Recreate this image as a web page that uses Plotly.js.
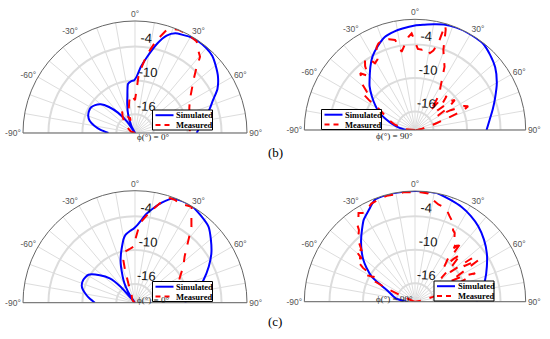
<!DOCTYPE html>
<html>
<head>
<meta charset="utf-8">
<script src="https://cdn.plot.ly/plotly-3.0.1.min.js"></script>
<style>html,body{margin:0;padding:0;background:#fff;}#chart{width:550px;height:339px;}</style>
</head>
<body>
<div id="chart"></div>
<script>
// ---------- data (theta in degrees, r in dB) ----------
// (b) phi = 0 deg
const simB0Theta = [-90,-85,-80,-75,-70,-65,-60,-55,-50,-45,-40,-35,-32,-28,-20,-15,-12,-8,-4,-1,2,5,9,14,18,22,26,30,35,40,45,50,56,62,67,72,78,84,90];
const simB0R     = [-14.6,-13.2,-12.0,-11.0,-10.5,-10.3,-10.3,-10.7,-11.4,-12.8,-14.6,-16.8,-19.3,-18.0,-15.7,-14.0,-12.8,-10.5,-10.1,-10.0,-9.2,-7.6,-5.7,-3.0,-1.2,-0.3,0.0,0.3,0.4,0.3,0.0,-0.7,-1.6,-2.8,-4.3,-5.4,-6.8,-7.7,-8.4];
const meaB0Theta = [-90,-70,-57,-47,-38,-30,-25,-20,-15,-10,-6,-3,0,2,3.4,5.8,8.5,13,17,20,23,27,30,34,37,40.5,44,48,54,59,65,72,80,90];
const meaB0R     = [-19.3,-18.5,-17.9,-16.9,-15.8,-14.7,-15.5,-17.0,-15.0,-13.5,-12.5,-13.0,-13.5,-11.8,-9.4,-7.6,-5.4,-2.5,-0.3,0.3,0.5,0.5,0.4,0.2,-0.8,-1.6,-3.8,-5.4,-7.0,-8.0,-8.7,-9.2,-9.5,-9.6];
// (b) phi = 90 deg
const simB90Theta = [-90,-82,-75,-65,-58,-52,-46,-40,-35,-30,-24,-18,-12,-7,0,5,10,16,22,28,34,38,45,52,60,69,75,82,90];
const simB90R     = [-17.8,-16.5,-15.0,-12.4,-10.9,-9.5,-8.0,-6.7,-5.4,-4.1,-2.9,-1.8,-1.3,-1.0,-0.6,-0.4,-0.1,0.3,0.45,0.5,0.45,0.4,-0.3,-1.1,-2.4,-4.0,-4.9,-5.8,-6.5];
const meaB90Theta = [-90,-85,-80,-75,-70,-65,-60,-57,-55,-52,-49,-46,-44,-41,-38,-35.5,-33,-31,-28,-25,-23,-20,-16,-12.5,-11,-9.7,-7,-4,-2,0,2,5,8,11,13,15,16,17,19.5,22,25,28,31,34,36,38,40,43,46,49,51,53,56,58,61,64,66,68,70,73,76,80,85,90];
const meaB90R     = [-19.3,-17.5,-16.8,-15.5,-14.5,-13.5,-12.0,-9.5,-7.8,-8.5,-6.8,-6.0,-5.2,-6.5,-4.8,-3.9,-4.0,-5.4,-5.0,-3.0,-2.5,-2.2,-2.4,-2.8,-4.0,-5.1,-4.0,-2.6,-2.0,-3.5,-4.8,-4.9,-4.5,-5.3,-4.7,-3.3,0.2,-0.5,-4.1,-5.5,-6.8,-9.0,-10.5,-11.4,-13.0,-15.0,-12.5,-11.0,-12.5,-14.0,-11.0,-10.4,-12.0,-14.5,-12.0,-9.5,-8.9,-10.0,-13.0,-15.5,-17.0,-18.0,-18.8,-19.3];
// (c) phi = 0 deg
const simC0Theta = [-90,-85,-81,-76,-72,-66,-59,-52,-46,-42,-38,-34,-30,-27,-23,-20,-16,-13,-10,-8,-4,-1,2,3.5,7,11,15,20,25,31,37,44,50,57,64,72,80,90];
const simC0R     = [-12.2,-11.3,-10.6,-9.8,-9.4,-9.3,-9.7,-11.4,-13.1,-15.5,-19.3,-17.7,-16.0,-14.8,-13.3,-11.9,-10.3,-9.1,-7.8,-7.2,-6.6,-6.2,-5.5,-5.0,-3.6,-2.3,-1.0,0.3,0.5,0.5,0.0,-0.6,-1.8,-3.2,-4.8,-6.6,-8.3,-10.5];
const meaC0Theta = [-90,-60,-40,-30,-23.5,-19,-17,-15.3,-13,-11,-6,-1.7,1,3.6,9.4,14,18.5,21,24.4,27,30.6,33,36.7,41,47,53,60,65,75,90];
const meaC0R     = [-19.3,-19.0,-18.5,-18.2,-17.8,-15.7,-13.3,-11.5,-10.6,-10.1,-9.8,-9.4,-7.6,-5.2,-3.0,-1.2,0.2,0.2,0.0,0.1,0.4,-1.0,-2.6,-5.0,-7.3,-8.6,-10.1,-10.8,-12.5,-13.5];
// (c) phi = 90 deg
const simC90Theta = [-90,-80,-69,-64,-60,-55,-51,-46,-41,-36,-32,-27,-21.5,-15,-10,0,6,12,19,26,33,40,48,56,64,73,81,90];
const simC90R     = [-17.8,-15.8,-14.2,-12.5,-10.4,-8.7,-7.4,-6.0,-4.6,-3.2,-2.0,-1.0,0.3,0.5,0.5,0.5,0.5,0.5,0.0,-0.4,-1.0,-1.7,-2.7,-3.8,-5.0,-6.2,-7.3,-8.3];
const meaC90Theta = [-90,-75,-68,-65,-63,-61,-59,-57,-55,-53,-51,-49,-46,-43,-40,-38,-36.5,-34,-32.5,-30,-27,-24,-20,-15,-10,-6,-2,0,3,7,10,13.5,17,19,22,26,28,30,32,34.8,36,37.9,38.5,37,40,42,44,46,48,50,52.6,54,56.7,58,60,62,64.7,66,68,70,72,75,80,90];
const meaC90R     = [-19.3,-19.0,-18.0,-14.0,-10.5,-9.6,-10.8,-8.2,-7.0,-6.3,-7.0,-5.1,-6.0,-4.5,-3.6,-3.0,-1.8,-1.2,-0.5,-1.0,-0.6,-0.1,0.1,0.3,0.2,0.4,0.3,0.4,0.3,0.2,-0.8,-1.4,-1.6,-1.9,-2.8,-3.7,-4.8,-5.1,-6.0,-6.2,-7.5,-5.7,-8.0,-9.3,-11.2,-9.0,-7.5,-10.0,-13.0,-11.0,-6.5,-8.5,-5.7,-9.0,-12.0,-9.5,-7.4,-9.4,-12.0,-15.0,-13.0,-16.0,-18.0,-19.3];

const angTicks = [-90,-80,-70,-60,-50,-40,-30,-20,-10,0,10,20,30,40,50,60,70,80,90];
const angText  = angTicks.map(v => (v % 30 === 0) ? v + '°' : '');
const rTicks   = [-16,-10,-4];
const rText    = ['-16','-10','-4'];
const rRange   = [-19.3, 0.5];
const simName = 'Simulated', meaName = 'Measured';
const panelLabels = ['ϕ(°) = 0°','ϕ(°) = 90°','ϕ(°) = 0°','ϕ(°) = 90°'];
const figLabels = ['(b)','(c)'];

const W = 550, H = 339;
const SIM_COLOR = '#0000ff', MEA_COLOR = '#ff0000';

// ---------- traces ----------
const sets = [
  [simB0Theta, simB0R, meaB0Theta, meaB0R],
  [simB90Theta, simB90R, meaB90Theta, meaB90R],
  [simC0Theta, simC0R, meaC0Theta, meaC0R],
  [simC90Theta, simC90R, meaC90Theta, meaC90R]
];
const traces = [];
sets.forEach((s, i) => {
  const sub = i === 0 ? 'polar' : 'polar' + (i + 1);
  traces.push({type:'scatterpolar', mode:'lines', theta:s[0], r:s[1], subplot:sub, showlegend:false,
    name:simName, line:{color:SIM_COLOR, width:2, shape:'spline', smoothing:0.6}});
  traces.push({type:'scatterpolar', mode:'lines', theta:s[2], r:s[3], subplot:sub, showlegend:false,
    name:meaName, line:{color:MEA_COLOR, width:2, dash:'dash'}});
});

function polarCfg(dx, dy) {
  return {
    domain:{x:dx, y:dy}, sector:[0,180], bgcolor:'white', hole:0,
    angularaxis:{rotation:90, direction:'clockwise', tickmode:'array', tickvals:angTicks, ticktext:angText,
      showline:true, linecolor:'#666', linewidth:1, gridcolor:'#dddddd', gridwidth:1, ticks:'',
      tickfont:{family:'Liberation Sans, Arial, sans-serif', size:8.5, color:'#555'}},
    radialaxis:{range:rRange, tickmode:'array', tickvals:rTicks, ticktext:rText.map(t => t + '<br> '),
      angle:87, side:'clockwise', tickangle:90,
      showline:false, ticks:'', gridcolor:'#dcdcdc', gridwidth:2,
      tickfont:{family:'Liberation Sans, Arial, sans-serif', size:13, color:'#111'}}
  };
}

// ---------- legend boxes drawn as shapes + text (pixel boxes) ----------
const legendBoxes = [
  {x:152.5, y:110, w:60, h:20},
  {x:321.5, y:109.5, w:60, h:20},
  {x:152.5, y:281.5, w:60, h:20},
  {x:434, y:281, w:60, h:20}
];
const px = v => v / W, py = v => 1 - v / H;
const shapes = [], annotations = [];
const legFont = {family:'Liberation Serif, Times New Roman, serif', size:8.5, color:'#000', weight:'bold'};
legendBoxes.forEach(b => {
  shapes.push({type:'rect', xref:'paper', yref:'paper', x0:px(b.x), x1:px(b.x + b.w), y0:py(b.y + b.h), y1:py(b.y),
    fillcolor:'white', line:{color:'#000', width:1}});
  const rows = [[simName, SIM_COLOR, 'solid'], [meaName, MEA_COLOR, 'dash']];
  rows.forEach((row, k) => {
    const yy = b.y + 5.2 + k * 9.8;
    shapes.push({type:'line', xref:'paper', yref:'paper', x0:px(b.x + 3), x1:px(b.x + 21), y0:py(yy), y1:py(yy),
      line:{color:row[1], width:2, dash:row[2] === 'dash' ? '5px,4px' : 'solid'}});
    annotations.push({xref:'paper', yref:'paper', x:px(b.x + 21.5), y:py(yy), xanchor:'left', yanchor:'middle',
      text:row[0], showarrow:false, font:legFont});
  });
});

const labelFont = {family:'Liberation Serif, Times New Roman, serif', size:9, color:'#222'};
annotations.push(
  {xref:'paper',yref:'paper',x:0.2455,y:0.5944,text:panelLabels[0],showarrow:false,font:labelFont},
  {xref:'paper',yref:'paper',x:0.7545,y:0.5988,text:panelLabels[1],showarrow:false,font:labelFont},
  {xref:'paper',yref:'paper',x:0.2455,y:0.0953,text:panelLabels[2],showarrow:false,font:labelFont},
  {xref:'paper',yref:'paper',x:0.7545,y:0.0973,text:panelLabels[3],showarrow:false,font:labelFont},
  {xref:'paper',yref:'paper',x:0.5,y:0.5487,text:figLabels[0],showarrow:false,font:{family:'Liberation Serif, serif',size:13,color:'#000'}},
  {xref:'paper',yref:'paper',x:0.5,y:0.0236,text:figLabels[1],showarrow:false,font:{family:'Liberation Serif, serif',size:13,color:'#000'}}
);

const layout = {
  width:W, height:H, margin:{l:0,r:0,t:0,b:0}, paper_bgcolor:'white', showlegend:false,
  polar:  polarCfg([0.0418,0.4491],[0.6077,0.9381]),
  polar2: polarCfg([0.5533,0.9558],[0.6165,0.9431]),
  polar3: polarCfg([0.0418,0.4491],[0.1071,0.4375]),
  polar4: polarCfg([0.5533,0.9558],[0.1100,0.4366]),
  shapes: shapes,
  annotations: annotations
};

Plotly.newPlot('chart', traces, layout, {staticPlot:true, displayModeBar:false});
</script>
</body>
</html>
